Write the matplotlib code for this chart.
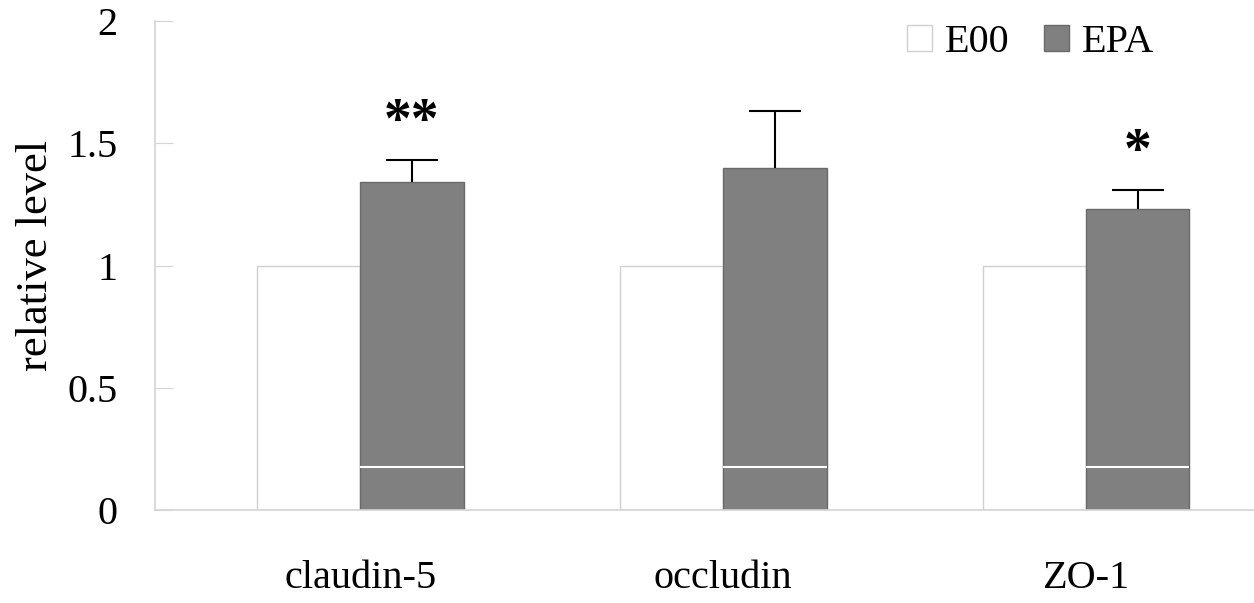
import numpy as np
import matplotlib.pyplot as plt

plt.rcParams['font.family'] = ['Liberation Serif', 'DejaVu Serif']

# data
categories = ['claudin-5', 'occludin', 'ZO-1']
e00 = [1.0, 1.0, 1.0]
epa = [1.34, 1.40, 1.23]
epa_err = [0.09, 0.23, 0.08]
stars = ['**', '', '*']
white_line_level = 0.175

fig = plt.figure(figsize=(12.54, 6.03), dpi=100)
ax = fig.add_axes([0.1236, 0.1542, 0.8764, 0.811])

x = np.arange(len(categories))
w = 0.285
axis_col = '#d4d4d4'

ax.bar(x - w, e00, w, align='edge', color='white', edgecolor='#d0d0d0', linewidth=1, label='E00')
ax.bar(x, epa, w, align='edge', color='#808080', edgecolor='#6a6a6a', linewidth=1, label='EPA')

# odd white line across the gray bars
ax.hlines([white_line_level] * len(x), x, x + w, colors='white', linewidth=1.5)

cap_colors = ['#d0d0d0', 'black', 'black']
for i in range(len(x)):
    eb = ax.errorbar(x[i] + w / 2, epa[i], yerr=[[0], [epa_err[i]]], fmt='none',
                     ecolor='black', elinewidth=1.5, capsize=19, capthick=1.5)
    # only the upper cap
    eb[1][0].set_visible(False)
    eb[1][1].set_color(cap_colors[i])
    if stars[i]:
        ax.annotate(stars[i], (x[i] + w / 2, epa[i] + epa_err[i]), xytext=(0, 8),
                    textcoords='offset points', ha='center', va='bottom',
                    fontsize=40, fontweight='bold')

ax.set_xlim(-0.5655, 2.463)
ax.set_ylim(0, 2)
ax.set_yticks([0, 0.5, 1, 1.5, 2])
ax.set_yticklabels(['0', '0.5', '1', '1.5', '2'])
ax.set_xticks(x)
ax.set_xticklabels(categories)
ax.tick_params(axis='y', direction='in', length=13, color=axis_col, labelsize=29, pad=27)
ax.tick_params(axis='x', length=0, labelsize=29, pad=36)
ax.set_ylabel('relative level', fontsize=32, labelpad=8)
ax.yaxis.label.set_y(0.52)

for s in ['top', 'right']:
    ax.spines[s].set_visible(False)
for s in ['left', 'bottom']:
    ax.spines[s].set_color(axis_col)
    ax.spines[s].set_linewidth(1.2)

ax.legend(loc='upper right', bbox_to_anchor=(0.924, 1.026), ncol=2, frameon=False, fontsize=29,
          handlelength=0.62, handleheight=0.62, handletextpad=0.32, columnspacing=0.87,
          borderaxespad=0)

fig.savefig('out.png', dpi=100)
